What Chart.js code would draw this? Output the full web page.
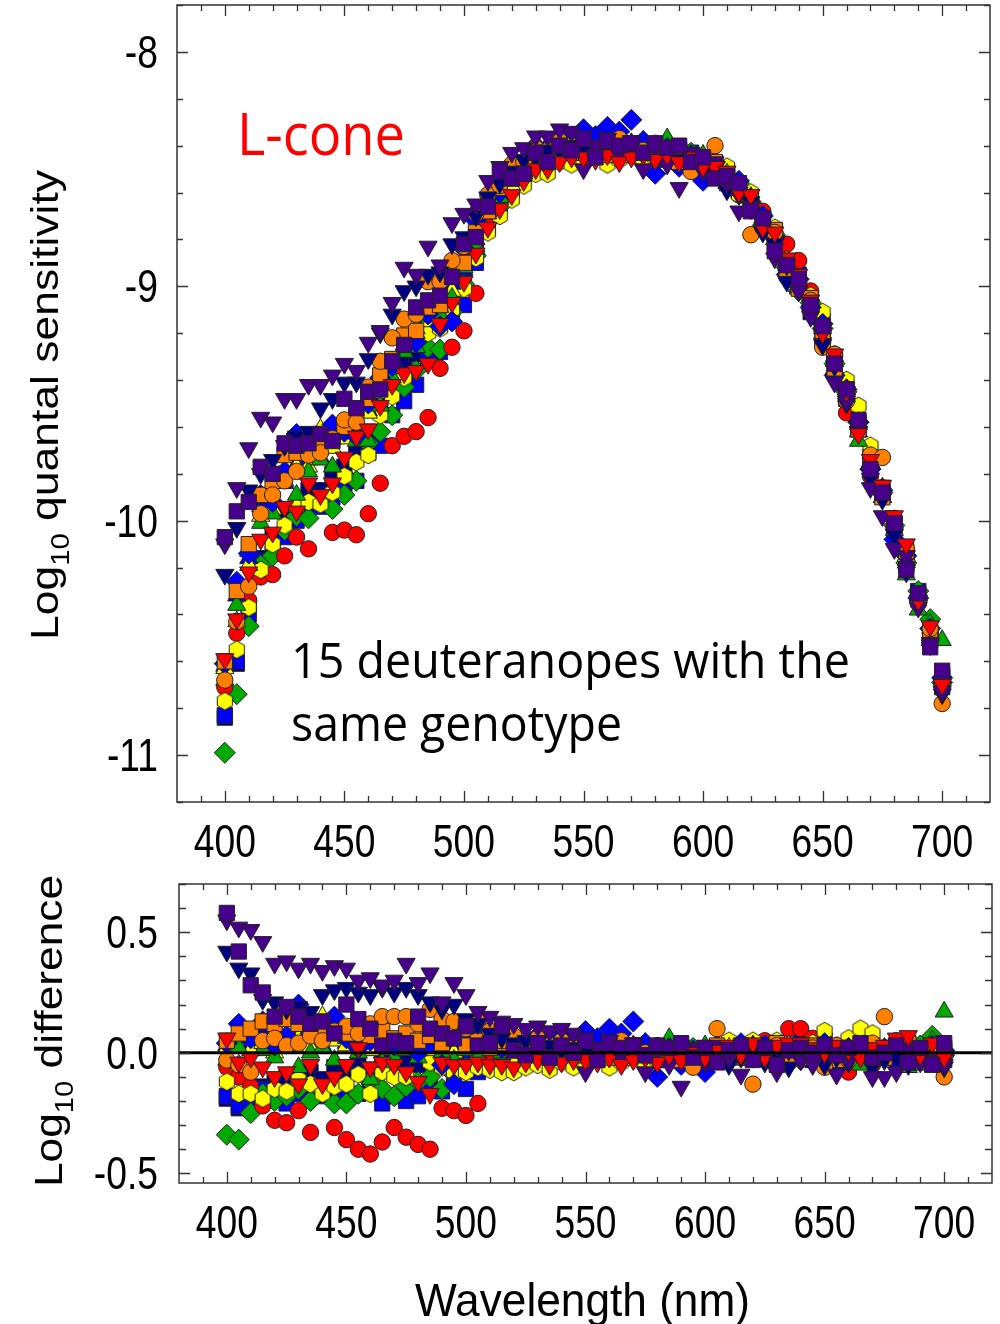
<!DOCTYPE html>
<html>
<head>
<meta charset="utf-8">
<script src="https://cdn.jsdelivr.net/npm/chart.js@4.4.0/dist/chart.umd.min.js"></script>
<style>
  html, body { margin: 0; padding: 0; background: #fff; }
  #wrap { position: relative; width: 1000px; height: 1324px; }
  #topChart { position: absolute; left: 0; top: 0; }
  #bottomChart { position: absolute; left: 0; top: 870px; }
</style>
</head>
<body>
<div id="wrap">
  <canvas id="topChart" width="1000" height="870"></canvas>
  <canvas id="bottomChart" width="1000" height="454"></canvas>
</div>
<script>
// wavelengths (nm) of the measurements
const wavelengths = [
  400, 405, 410, 415, 420, 425, 430, 435, 440, 445,
  450, 455, 460, 465, 470, 475, 480, 485, 490, 495,
  500, 505, 510, 515, 520, 525, 530, 535, 540, 545,
  550, 555, 560, 565, 570, 575, 580, 585, 590, 595,
  600, 605, 610, 615, 620, 625, 630, 635, 640, 645,
  650, 655, 660, 665, 670, 675, 680, 685, 690, 695,
  700
];

// mean L-cone log10 quantal sensitivity
const template = [
  -10.65, -10.38, -10.20, -10.02, -9.95, -9.86, -9.83, -9.79, -9.76, -9.74,
  -9.68, -9.66, -9.55, -9.47, -9.37, -9.29, -9.24, -9.16, -9.12, -9.02,
  -8.93, -8.82, -8.70, -8.62, -8.55, -8.51, -8.47, -8.45, -8.43, -8.42,
  -8.42, -8.42, -8.42, -8.42, -8.42, -8.42, -8.42, -8.43, -8.44, -8.45,
  -8.47, -8.50, -8.54, -8.59, -8.65, -8.73, -8.80, -8.92, -8.99, -9.08,
  -9.20, -9.32, -9.46, -9.61, -9.76, -9.88, -10.04, -10.17, -10.33, -10.49,
  -10.68
];

// log10 difference of each observer from the mean (bottom panel)
const resIndigoSquare = [
  0.58, 0.42, 0.28, 0.25, 0.15, 0.19, 0.15, 0.12, 0.13, 0.08,
  0.20, 0.14, 0.10, 0.03, 0.05, 0.04, 0.15, 0.10, 0.08, 0.06,
  0.11, 0.03, 0.04, 0.11, 0.01, -0.01, 0.04, -0.02, 0.03, 0.00,
  0.05, -0.03, 0.04, 0.02, 0.03, -0.01, 0.03, 0.02, 0.04, -0.02,
  0.02, -0.04, 0.01, 0.03, -0.03, 0.02, -0.05, 0.01, 0.02, 0.00,
  0.03, -0.01, 0.02, 0.04, -0.02, 0.00, 0.03, -0.04, 0.02, -0.05,
  0.04
];
const resIndigoTri = [
  0.55, 0.52, 0.51, 0.46, 0.37, 0.38, 0.35, 0.37, 0.34, 0.36,
  0.35, 0.30, 0.31, 0.28, 0.30, 0.37, 0.29, 0.33, 0.21, 0.29,
  0.24, 0.17, 0.15, 0.13, 0.12, 0.10, 0.11, 0.09, 0.10, 0.08,
  -0.08, 0.02, 0.05, -0.03, 0.04, -0.08, 0.01, -0.05, -0.14, 0.02,
  -0.04, 0.03, -0.02, -0.09, -0.01, 0.02, -0.08, 0.01, -0.03, -0.05,
  0.00, -0.09, -0.03, 0.01, -0.10, -0.10, -0.08, 0.02, -0.04, -0.03,
  -0.05
];
const resNavyTri = [
  0.42, 0.35, 0.33, 0.22, 0.21, 0.18, 0.19, 0.17, 0.24, 0.26,
  0.27, 0.25, 0.24, 0.27, 0.25, 0.27, 0.24, 0.21, 0.18, 0.20,
  0.14, 0.12, 0.08, 0.06, 0.04, 0.05, 0.02, 0.03, 0.01, 0.02,
  0.00, -0.02, 0.01, -0.03, 0.02, -0.01, -0.04, 0.00, -0.02, 0.01,
  -0.03, 0.00, -0.05, -0.02, 0.01, -0.04, -0.02, -0.06, -0.03, 0.00,
  -0.05, -0.02, -0.04, -0.01, -0.06, -0.03, -0.02, -0.05, -0.01, -0.04,
  -0.06
];
const resRedTri = [
  0.06, -0.04, -0.02, -0.06, -0.10, -0.08, -0.13, -0.05, -0.13, -0.10,
  -0.05, 0.02, -0.06, -0.04, -0.05, -0.08, -0.12, -0.17, -0.04, -0.05,
  -0.05, -0.04, -0.05, -0.05, -0.06, -0.04, -0.03, -0.05, -0.04, -0.03,
  -0.03, -0.04, -0.02, -0.05, -0.03, -0.02, -0.04, -0.01, -0.03, 0.00,
  -0.02, 0.01, 0.03, -0.01, 0.04, -0.02, 0.03, 0.04, 0.04, 0.02,
  0.00, 0.03, 0.01, -0.02, 0.02, 0.03, 0.06, 0.07, -0.01, 0.04,
  -0.02
];
const resOrangeCircle = [
  -0.03, -0.05, -0.08, 0.05, 0.06, 0.03, 0.04, 0.07, 0.05, 0.09,
  0.11, 0.08, 0.12, 0.15, 0.15, 0.15, 0.12, 0.18, 0.14, 0.13,
  0.10, 0.13, 0.09, 0.05, 0.07, 0.04, 0.06, 0.03, 0.05, 0.02,
  0.04, 0.01, 0.03, 0.05, 0.02, 0.00, 0.03, -0.02, 0.01, -0.06,
  0.02, 0.10, -0.03, 0.01, -0.13, -0.02, 0.03, -0.04, 0.01, 0.02,
  -0.06, 0.03, -0.03, 0.01, 0.04, 0.15, 0.02, 0.05, -0.02, 0.03,
  -0.10
];
const resOrangeSquare = [
  0.05, 0.08, 0.10, 0.13, 0.12, 0.14, 0.12, 0.10, 0.11, 0.09,
  0.08, 0.10, 0.07, 0.09, 0.06, 0.08, 0.05, 0.07, 0.04, 0.06,
  0.03, 0.05, 0.02, 0.04, 0.01, 0.03, 0.00, 0.02, 0.01, -0.01,
  0.02, 0.00, -0.02, 0.01, 0.03, -0.01, 0.00, 0.02, -0.03, 0.01,
  0.00, 0.03, -0.02, 0.01, 0.02, -0.01, 0.04, 0.00, -0.02, 0.03,
  0.01, -0.03, 0.02, 0.00, 0.03, -0.02, 0.01, 0.04, 0.00, -0.02,
  0.01
];
const resBlueDiamond = [
  0.04, 0.12, 0.06, 0.13, 0.03, 0.07, 0.20, 0.08, 0.10, 0.15,
  0.06, 0.02, 0.05, 0.08, 0.03, 0.06, 0.00, 0.04, -0.05, -0.13,
  0.09, 0.10, 0.05, 0.02, 0.06, 0.03, 0.07, 0.04, 0.07, 0.05,
  0.09, 0.06, 0.10, 0.08, 0.13, 0.04, -0.10, 0.02, -0.05, 0.01,
  -0.08, 0.03, 0.00, 0.04, -0.02, 0.03, 0.01, -0.03, 0.02, -0.01,
  0.04, -0.06, 0.02, 0.03, -0.02, 0.01, -0.04, 0.02, 0.00, 0.03,
  0.01
];
const resGreenTri = [
  -0.03, 0.02, 0.07, 0.01, -0.02, 0.03, -0.06, 0.00, 0.02, -0.03,
  0.06, 0.00, -0.11, -0.04, -0.02, 0.01, -0.02, 0.03, 0.00, -0.03,
  0.01, -0.02, 0.02, 0.00, 0.04, 0.02, 0.06, 0.03, 0.00, 0.05,
  0.02, 0.06, -0.01, 0.03, 0.01, 0.04, 0.00, 0.06, 0.02, -0.01,
  0.03, -0.04, 0.01, 0.02, -0.03, 0.00, 0.03, 0.01, -0.02, 0.02,
  0.00, -0.03, 0.02, -0.05, 0.01, -0.02, 0.03, -0.06, -0.05, 0.05,
  0.17
];
const resYellowTri = [
  0.02, -0.05, 0.01, 0.04, 0.00, 0.03, 0.06, 0.02, 0.15, 0.05,
  0.03, 0.07, 0.01, 0.05, 0.02, 0.04, 0.06, 0.01, 0.03, 0.00,
  0.02, -0.01, 0.01, 0.03, -0.02, 0.00, 0.02, -0.01, 0.01, 0.00,
  -0.02, 0.01, 0.00, -0.03, 0.02, 0.00, -0.01, 0.01, -0.02, 0.00,
  0.01, -0.01, 0.02, 0.00, -0.02, 0.01, 0.00, 0.03, -0.01, 0.00,
  0.02, 0.00, -0.01, 0.03, 0.01, -0.02, 0.00, 0.02, 0.01, -0.01,
  0.00
];
const resBlueTri = [
  0.03, 0.06, 0.04, 0.08, 0.05, 0.02, 0.07, 0.05, 0.03, 0.09,
  0.04, 0.06, 0.02, 0.05, 0.03, 0.01, 0.04, 0.02, 0.05, 0.03,
  0.00, 0.02, 0.04, 0.01, 0.03, -0.01, 0.02, 0.00, 0.03, 0.01,
  0.00, 0.02, -0.01, 0.01, 0.03, 0.00, -0.02, 0.01, 0.02, -0.01,
  0.02, 0.00, -0.02, 0.01, 0.03, -0.01, 0.00, 0.02, -0.02, 0.01,
  0.03, 0.00, 0.02, -0.01, 0.01, 0.02, -0.02, 0.00, 0.01, -0.02,
  0.01
];
const resYellowHex = [
  -0.12, -0.17, -0.17, -0.19, -0.15, -0.16, -0.11, -0.13, -0.17, -0.14,
  -0.13, -0.09, -0.17, -0.08, -0.10, -0.10, 0.04, -0.04, -0.06, -0.08,
  -0.08, -0.06, -0.07, -0.08, -0.08, -0.06, -0.05, -0.07, -0.04, -0.06,
  -0.05, -0.03, -0.06, -0.04, -0.02, -0.05, -0.03, -0.01, -0.04, -0.02,
  -0.03, 0.01, 0.05, -0.02, 0.05, 0.02, 0.05, 0.03, 0.00, 0.04,
  0.09, 0.03, 0.06, 0.10, 0.08, 0.02, 0.04, 0.01, -0.02, 0.03,
  0.00
];
const resRedCircle = [
  -0.06, -0.10, -0.14, -0.22, -0.28, -0.29, -0.24, -0.33, null, -0.31,
  -0.36, -0.40, -0.42, -0.37, -0.31, -0.35, -0.38, -0.40, -0.23, -0.24,
  -0.26, -0.21, -0.03, 0.02, -0.01, 0.01, -0.02, 0.00, 0.02, -0.01,
  0.01, -0.02, 0.00, 0.03, -0.01, 0.00, 0.02, -0.03, 0.01, 0.00,
  -0.02, 0.01, 0.03, -0.02, 0.02, 0.05, 0.03, 0.10, 0.10, 0.06,
  -0.04, 0.02, -0.08, 0.04, -0.05, 0.02, 0.05, 0.03, -0.02, 0.01,
  0.00
];
const resGreenDiamond = [
  -0.34, -0.36, -0.25, -0.17, -0.20, -0.18, -0.15, -0.20, -0.16, -0.21,
  -0.21, -0.17, -0.12, -0.15, -0.18, -0.14, -0.12, -0.10, -0.15, -0.09,
  -0.06, -0.05, -0.02, -0.04, 0.00, -0.03, 0.01, -0.02, 0.00, -0.01,
  0.02, -0.01, 0.01, 0.00, -0.02, 0.03, 0.00, 0.01, -0.03, 0.02,
  0.01, -0.02, 0.00, 0.03, 0.01, -0.01, 0.02, 0.00, -0.03, 0.01,
  0.02, -0.01, 0.01, 0.03, -0.02, 0.00, 0.02, -0.01, 0.03, 0.07,
  -0.01
];
const resBlueSquare = [
  -0.18, -0.22, -0.20, -0.15, -0.19, -0.21, -0.17, -0.15, -0.18, -0.16,
  -0.19, -0.17, -0.16, -0.21, -0.18, -0.20, -0.18, -0.14, -0.16, -0.12,
  -0.15, -0.08, -0.05, -0.03, -0.04, -0.01, -0.03, 0.00, -0.02, 0.01,
  -0.01, 0.02, -0.02, 0.00, 0.03, -0.01, 0.01, -0.03, 0.00, 0.02,
  0.01, -0.02, 0.03, 0.00, -0.01, 0.02, -0.03, 0.01, 0.04, 0.00,
  0.05, 0.01, -0.02, 0.03, 0.00, 0.02, -0.01, 0.01, 0.03, 0.00,
  0.02
];
const resNavySquare = [
  -0.19, -0.23, -0.16, -0.14, -0.12, -0.10, -0.13, -0.08, -0.11, -0.06,
  -0.09, -0.05, -0.07, -0.04, -0.06, -0.03, -0.05, -0.02, -0.04, -0.01,
  -0.03, 0.00, -0.02, 0.01, -0.01, 0.02, 0.00, -0.02, 0.01, -0.01,
  0.01, -0.02, 0.00, 0.02, -0.01, 0.01, -0.03, 0.00, 0.02, -0.01,
  0.00, 0.02, -0.01, 0.01, -0.02, 0.00, 0.02, -0.01, 0.01, -0.03,
  0.00, 0.01, -0.02, 0.00, 0.02, -0.01, 0.01, -0.02, 0.00, 0.01,
  -0.03
];

// axis ticks
const xMajorTicks = [400, 450, 500, 550, 600, 650, 700];
const topYMajorTicks = [-8, -9, -10, -11];
const bottomYMajorTicks = [0.5, 0.0, -0.5];
const bottomYTickLabels = ['0.5', '0.0', '-0.5'];

const RED = '#FF0000', ORANGE = '#FF8000', YELLOW = '#FFFF00', GREEN = '#00AA00';
const BLUE = '#0000FF', NAVY = '#000080', INDIGO = '#46008C';

// yellow hexagon marker (Chart.js has no hexagon)
function makeHexagon(fill) {
  const c = document.createElement('canvas');
  c.width = 20; c.height = 20;
  const g = c.getContext('2d');
  g.beginPath();
  for (let k = 0; k < 6; k++) {
    const a = Math.PI / 6 + k * Math.PI / 3;
    const px = 10 + 8.8 * Math.cos(a), py = 10 + 8.8 * Math.sin(a);
    if (k === 0) g.moveTo(px, py); else g.lineTo(px, py);
  }
  g.closePath();
  g.fillStyle = fill;
  g.fill();
  g.strokeStyle = '#222';
  g.lineWidth = 1;
  g.stroke();
  return c;
}
const hexYellow = makeHexagon(YELLOW);

// first entry is drawn on top
const series = [
  { res: resIndigoSquare, color: INDIGO, shape: 'rect', r: 10.8 },
  { res: resRedTri, color: RED, shape: 'triangle', r: 10.5, rot: 180 },
  { res: resIndigoTri, color: INDIGO, shape: 'triangle', r: 10.5, rot: 180 },
  { res: resNavyTri, color: NAVY, shape: 'triangle', r: 10.5, rot: 180 },
  { res: resOrangeCircle, color: ORANGE, shape: 'circle', r: 8.2 },
  { res: resOrangeSquare, color: ORANGE, shape: 'rect', r: 10.8 },
  { res: resBlueDiamond, color: BLUE, shape: 'rectRot', r: 10.5 },
  { res: resGreenTri, color: GREEN, shape: 'triangle', r: 10.5 },
  { res: resYellowTri, color: YELLOW, shape: 'triangle', r: 10.5 },
  { res: resBlueTri, color: BLUE, shape: 'triangle', r: 10.5 },
  { res: resYellowHex, color: YELLOW, shape: hexYellow, r: 9 },
  { res: resRedCircle, color: RED, shape: 'circle', r: 8.2 },
  { res: resGreenDiamond, color: GREEN, shape: 'rectRot', r: 10.5 },
  { res: resBlueSquare, color: BLUE, shape: 'rect', r: 10.8 },
  { res: resNavySquare, color: NAVY, shape: 'rect', r: 10.8 }
];

function buildDatasets(useTemplate) {
  return series.map(s => ({
    data: wavelengths.map((w, i) => ({
      x: w,
      y: s.res[i] === null ? null : (useTemplate ? template[i] + s.res[i] : s.res[i])
    })),
    showLine: false,
    pointStyle: s.shape,
    pointRadius: s.r,
    pointRotation: s.rot || 0,
    backgroundColor: s.color,
    borderColor: '#222',
    borderWidth: 1
  }));
}

const FONT = "'Liberation Sans', Arial, sans-serif";

function squishText(ctx, text, x, y, size, sx, align) {
  ctx.font = size + 'px ' + FONT;
  const w = ctx.measureText(text).width * sx;
  let left = x;
  if (align === 'center') left = x - w / 2;
  if (align === 'right') left = x - w;
  ctx.save();
  ctx.translate(left, y);
  ctx.scale(sx, 1);
  ctx.textAlign = 'left';
  ctx.textBaseline = 'alphabetic';
  ctx.fillText(text, 0, 0);
  ctx.restore();
}

function fitText(ctx, text, x, y, font, width) {
  ctx.font = font;
  const w = ctx.measureText(text).width;
  ctx.save();
  ctx.translate(x, y);
  ctx.scale(width / w, 1);
  ctx.textAlign = 'left';
  ctx.textBaseline = 'alphabetic';
  ctx.fillText(text, 0, 0);
  ctx.restore();
}

// rotated "Log10 ..." title with a subscript
function yTitle(ctx, rest, xBase, yStart, length) {
  const big = '44px ' + FONT, small = '29px ' + FONT;
  ctx.font = big;
  const w1 = ctx.measureText('Log').width;
  const w3 = ctx.measureText(rest).width;
  ctx.font = small;
  const w2 = ctx.measureText('10').width;
  const k = length / (w1 + w2 + w3);
  ctx.save();
  ctx.translate(xBase, yStart);
  ctx.rotate(-Math.PI / 2);
  ctx.scale(k, 0.88);
  ctx.fillStyle = '#000';
  ctx.textBaseline = 'alphabetic';
  ctx.font = big;
  ctx.fillText('Log', 0, 0);
  ctx.font = small;
  ctx.fillText('10', w1, 12);
  ctx.font = big;
  ctx.fillText(rest, w1 + w2, 0);
  ctx.restore();
}

function frameAndTicks(chart, yMinor, yMajor, yMajorLen, yMinorLen) {
  const ctx = chart.ctx, a = chart.chartArea;
  const xs = chart.scales.x, ys = chart.scales.y;
  ctx.save();
  ctx.strokeStyle = '#333';
  ctx.lineWidth = 1.3;
  ctx.beginPath();
  for (let v = 390; v <= 710; v += 10) {
    const px = Math.round(xs.getPixelForValue(v)) + 0.5;
    const len = xMajorTicks.includes(v) ? 11 : 6;
    ctx.moveTo(px, a.bottom); ctx.lineTo(px, a.bottom - len);
    ctx.moveTo(px, a.top); ctx.lineTo(px, a.top + len);
  }
  yMinor.forEach(v => {
    const py = Math.round(ys.getPixelForValue(v)) + 0.5;
    const len = yMajor.some(m => Math.abs(m - v) < 1e-6) ? yMajorLen : yMinorLen;
    ctx.moveTo(a.left, py); ctx.lineTo(a.left + len, py);
    ctx.moveTo(a.right, py); ctx.lineTo(a.right - len, py);
  });
  ctx.stroke();
  ctx.lineWidth = 1.5;
  ctx.strokeRect(a.left, a.top, a.right - a.left, a.bottom - a.top);
  ctx.restore();
}

const topMinorY = [];
for (let v = -11.2; v <= -7.79; v += 0.2) topMinorY.push(Math.round(v * 10) / 10);
const bottomMinorY = [];
for (let v = -0.5; v <= 0.71; v += 0.1) bottomMinorY.push(Math.round(v * 10) / 10);

const topDecor = {
  id: 'topDecor',
  afterDraw(chart) {
    const ctx = chart.ctx;
    const xs = chart.scales.x, ys = chart.scales.y;
    frameAndTicks(chart, topMinorY, topYMajorTicks, 11, 6);
    ctx.save();
    ctx.fillStyle = '#000';
    xMajorTicks.forEach(v => squishText(ctx, String(v), xs.getPixelForValue(v), 857, 46, 0.81, 'center'));
    topYMajorTicks.forEach(v => squishText(ctx, String(v), 158, ys.getPixelForValue(v) + 16, 46, 0.81, 'right'));
    yTitle(ctx, ' quantal sensitivity', 58, 640, 470);
    ctx.fillStyle = '#FF0000';
    fitText(ctx, 'L-cone', 237, 155, "58px 'Open Sans', 'Noto Sans', sans-serif", 168);
    ctx.fillStyle = '#000';
    fitText(ctx, '15 deuteranopes with the', 291, 678, "50px 'Open Sans', 'Noto Sans', sans-serif", 559);
    fitText(ctx, 'same genotype', 291, 741, "50px 'Open Sans', 'Noto Sans', sans-serif", 331);
    ctx.restore();
  }
};

const bottomDecor = {
  id: 'bottomDecor',
  afterDatasetsDraw(chart) {
    const ctx = chart.ctx, a = chart.chartArea;
    const y0 = chart.scales.y.getPixelForValue(0);
    ctx.save();
    ctx.strokeStyle = '#000';
    ctx.lineWidth = 3;
    ctx.beginPath();
    ctx.moveTo(a.left, y0);
    ctx.lineTo(a.right, y0);
    ctx.stroke();
    ctx.restore();
  },
  afterDraw(chart) {
    const ctx = chart.ctx;
    const xs = chart.scales.x, ys = chart.scales.y;
    frameAndTicks(chart, bottomMinorY, bottomYMajorTicks, 11, 7);
    ctx.save();
    ctx.fillStyle = '#000';
    xMajorTicks.forEach(v => squishText(ctx, String(v), xs.getPixelForValue(v), 1238 - 870, 46, 0.81, 'center'));
    bottomYMajorTicks.forEach((v, i) => squishText(ctx, bottomYTickLabels[i], 158, ys.getPixelForValue(v) + 16, 46, 0.81, 'right'));
    yTitle(ctx, ' difference', 62, 1187 - 870, 312);
    fitText(ctx, 'Wavelength (nm)', 415, 1316 - 870, '46px ' + FONT, 335);
    ctx.restore();
  }
};

function baseOptions(padding, yMin, yMax) {
  return {
    responsive: false,
    animation: false,
    events: [],
    layout: { padding: padding, autoPadding: false },
    plugins: { legend: { display: false }, tooltip: { enabled: false } },
    scales: {
      x: { type: 'linear', min: 380, max: 720, display: false },
      y: { type: 'linear', min: yMin, max: yMax, display: false }
    }
  };
}

new Chart(document.getElementById('topChart').getContext('2d'), {
  type: 'scatter',
  data: { datasets: buildDatasets(true) },
  options: baseOptions({ left: 177, right: 10, top: 5, bottom: 68 }, -11.2, -7.8),
  plugins: [topDecor]
});

new Chart(document.getElementById('bottomChart').getContext('2d'), {
  type: 'scatter',
  data: { datasets: buildDatasets(false) },
  options: baseOptions({ left: 179, right: 8, top: 14, bottom: 141 }, -0.54, 0.7),
  plugins: [bottomDecor]
});
</script>
</body>
</html>
